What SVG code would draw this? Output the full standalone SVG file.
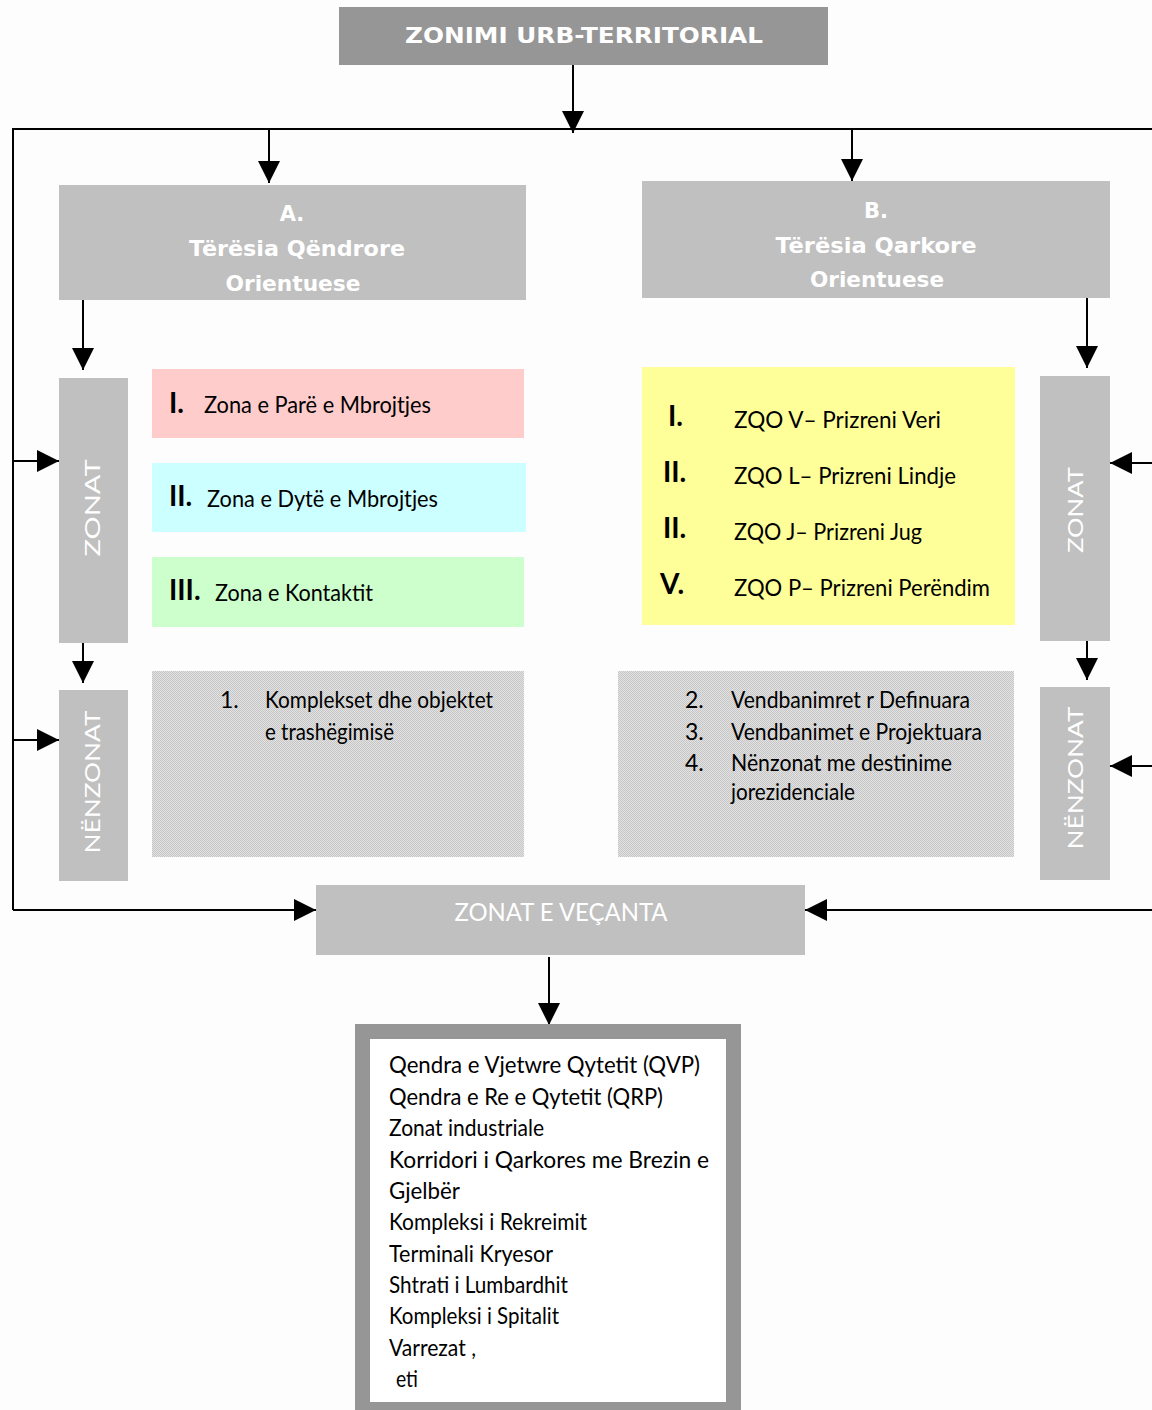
<svg xmlns="http://www.w3.org/2000/svg" width="1152" height="1410" viewBox="0 0 1152 1410">
<defs>
<marker id="ah" markerUnits="userSpaceOnUse" markerWidth="22" markerHeight="22" viewBox="0 0 20 20" refX="20" refY="10" orient="auto">
<path d="M0,0 L20,10 L0,20 Z" fill="#000"/>
</marker>
<pattern id="dots" width="2" height="2" patternUnits="userSpaceOnUse">
<rect width="2" height="2" fill="#e2e2e2"/>
<rect width="1" height="1" fill="#c6c6c6"/>
<rect x="1" y="1" width="1" height="1" fill="#c6c6c6"/>
</pattern>
<style>
.hdr{fill:#c0c0c0}
.wb{font-family:"DejaVu Sans",sans-serif;font-weight:bold;fill:#fff;text-anchor:middle}
.wt{font-family:"Lato","Liberation Sans",sans-serif;fill:#fff;text-anchor:middle}
.bt{font-family:"Lato","Liberation Sans",sans-serif;fill:#000}
.num{font-family:"Lato","Liberation Sans",sans-serif;fill:#000;font-size:28px;font-weight:bold}
.conn{stroke:#000;stroke-width:2;fill:none}
.arr{stroke:#000;stroke-width:2;fill:none;marker-end:url(#ah)}
</style>
</defs>
<rect width="1152" height="1410" fill="#fdfdfd"/>

<g id="connectors">
<path class="conn" d="M1152,129 L13,129 L13,910"/>
<line class="arr" x1="573" y1="65" x2="573" y2="133"/>
<line class="arr" x1="269" y1="129" x2="269" y2="183"/>
<line class="arr" x1="852" y1="129" x2="852" y2="181"/>
<line class="arr" x1="83" y1="300" x2="83" y2="370"/>
<line class="arr" x1="83" y1="643" x2="83" y2="683"/>
<line class="arr" x1="1087" y1="298" x2="1087" y2="368"/>
<line class="arr" x1="1087" y1="641" x2="1087" y2="680"/>
<line class="arr" x1="13" y1="461" x2="59" y2="461"/>
<line class="arr" x1="13" y1="740" x2="59" y2="740"/>
<line class="arr" x1="1152" y1="463" x2="1110" y2="463"/>
<line class="arr" x1="1152" y1="766" x2="1110" y2="766"/>
<line class="arr" x1="13" y1="910" x2="316" y2="910"/>
<line class="arr" x1="1152" y1="910" x2="805" y2="910"/>
<line class="arr" x1="549" y1="957" x2="549" y2="1025"/>
</g>

<g id="title">
<rect x="339" y="7" width="489" height="58" fill="#969696"/>
<text class="wb" x="584" y="43" font-size="22" textLength="358" lengthAdjust="spacingAndGlyphs">ZONIMI URB-TERRITORIAL</text>
</g>

<g id="nodeA">
<rect class="hdr" x="59" y="185" width="467" height="115"/>
<text class="wb" x="292" y="221" font-size="21">A.</text>
<text class="wb" x="297" y="256" font-size="21" textLength="216" lengthAdjust="spacingAndGlyphs">Tërësia Qëndrore</text>
<text class="wb" x="293" y="291" font-size="21" textLength="135" lengthAdjust="spacingAndGlyphs">Orientuese</text>
</g>

<g id="nodeB">
<rect class="hdr" x="642" y="181" width="468" height="117"/>
<text class="wb" x="876" y="218" font-size="21">B.</text>
<text class="wb" x="876" y="253" font-size="21" textLength="201" lengthAdjust="spacingAndGlyphs">Tërësia Qarkore</text>
<text class="wb" x="877" y="287" font-size="21" textLength="134" lengthAdjust="spacingAndGlyphs">Orientuese</text>
</g>

<g id="zonatL">
<rect class="hdr" x="59" y="378" width="69" height="265"/>
<text class="wt" transform="translate(100,508) rotate(-90)" font-size="21" textLength="97" lengthAdjust="spacingAndGlyphs">ZONAT</text>
</g>
<g id="nenzonatL">
<rect class="hdr" x="59" y="690" width="69" height="191"/>
<text class="wt" transform="translate(100,782) rotate(-90)" font-size="21" textLength="143" lengthAdjust="spacingAndGlyphs">NËNZONAT</text>
</g>
<g id="zonatR">
<rect class="hdr" x="1040" y="376" width="70" height="265"/>
<text class="wt" transform="translate(1083,510) rotate(-90)" font-size="21" textLength="86" lengthAdjust="spacingAndGlyphs">ZONAT</text>
</g>
<g id="nenzonatR">
<rect class="hdr" x="1040" y="687" width="70" height="193"/>
<text class="wt" transform="translate(1083,778) rotate(-90)" font-size="21" textLength="143" lengthAdjust="spacingAndGlyphs">NËNZONAT</text>
</g>

<g id="zone1">
<rect x="152" y="369" width="372" height="69" fill="#ffcccc"/>
<text class="num" x="169" y="413">I.</text>
<text class="bt" x="204" y="413" font-size="23" textLength="227" lengthAdjust="spacingAndGlyphs">Zona e Parë e Mbrojtjes</text>
</g>
<g id="zone2">
<rect x="152" y="463" width="374" height="69" fill="#ccffff"/>
<text class="num" x="169" y="506">II.</text>
<text class="bt" x="207" y="507" font-size="23" textLength="231" lengthAdjust="spacingAndGlyphs">Zona e Dytë e Mbrojtjes</text>
</g>
<g id="zone3">
<rect x="152" y="557" width="372" height="70" fill="#ccffcc"/>
<text class="num" x="169" y="600">III.</text>
<text class="bt" x="215" y="601" font-size="23" textLength="158" lengthAdjust="spacingAndGlyphs">Zona e Kontaktit</text>
</g>

<g id="zqo">
<rect x="642" y="367" width="373" height="258" fill="#ffff99"/>
<text class="num" x="668" y="426">I.</text>
<text class="num" x="663" y="482">II.</text>
<text class="num" x="663" y="538">II.</text>
<text class="num" x="660" y="594">V.</text>
<text class="bt" x="734" y="428" font-size="23" textLength="207" lengthAdjust="spacingAndGlyphs">ZQO V– Prizreni Veri</text>
<text class="bt" x="734" y="484" font-size="23" textLength="222" lengthAdjust="spacingAndGlyphs">ZQO L– Prizreni Lindje</text>
<text class="bt" x="734" y="540" font-size="23" textLength="188" lengthAdjust="spacingAndGlyphs">ZQO J– Prizreni Jug</text>
<text class="bt" x="734" y="596" font-size="23" textLength="256" lengthAdjust="spacingAndGlyphs">ZQO P– Prizreni Perëndim</text>
</g>

<g id="subL">
<rect x="152" y="671" width="372" height="186" fill="url(#dots)"/>
<text class="bt" x="220" y="708" font-size="23">1.</text>
<text class="bt" x="265" y="708" font-size="23" textLength="228" lengthAdjust="spacingAndGlyphs">Komplekset dhe objektet</text>
<text class="bt" x="265" y="740" font-size="23" textLength="129" lengthAdjust="spacingAndGlyphs">e trashëgimisë</text>
</g>

<g id="subR">
<rect x="618" y="671" width="396" height="186" fill="url(#dots)"/>
<text class="bt" x="685" y="708" font-size="23">2.</text>
<text class="bt" x="731" y="708" font-size="23" textLength="239" lengthAdjust="spacingAndGlyphs">Vendbanimret r Definuara</text>
<text class="bt" x="685" y="740" font-size="23">3.</text>
<text class="bt" x="731" y="740" font-size="23" textLength="251" lengthAdjust="spacingAndGlyphs">Vendbanimet e Projektuara</text>
<text class="bt" x="685" y="771" font-size="23">4.</text>
<text class="bt" x="731" y="771" font-size="23" textLength="221" lengthAdjust="spacingAndGlyphs">Nënzonat me destinime</text>
<text class="bt" x="731" y="800" font-size="23" textLength="124" lengthAdjust="spacingAndGlyphs">jorezidenciale</text>
</g>

<g id="vecanta">
<rect class="hdr" x="316" y="885" width="489" height="70"/>
<text class="wt" x="561" y="921" font-size="25" textLength="213" lengthAdjust="spacingAndGlyphs">ZONAT E VEÇANTA</text>
</g>

<g id="listbox">
<rect x="362.5" y="1031.5" width="371" height="378" fill="#fff" stroke="#969696" stroke-width="15"/>
<text class="bt" x="389" y="1073" font-size="23" textLength="311" lengthAdjust="spacingAndGlyphs">Qendra e Vjetwre Qytetit (QVP)</text>
<text class="bt" x="389" y="1105" font-size="23" textLength="274" lengthAdjust="spacingAndGlyphs">Qendra e Re e Qytetit (QRP)</text>
<text class="bt" x="389" y="1136" font-size="23" textLength="155" lengthAdjust="spacingAndGlyphs">Zonat industriale</text>
<text class="bt" x="389" y="1168" font-size="23" textLength="320" lengthAdjust="spacingAndGlyphs">Korridori i Qarkores me Brezin e</text>
<text class="bt" x="389" y="1199" font-size="23" textLength="71" lengthAdjust="spacingAndGlyphs">Gjelbër</text>
<text class="bt" x="389" y="1230" font-size="23" textLength="198" lengthAdjust="spacingAndGlyphs">Kompleksi i Rekreimit</text>
<text class="bt" x="389" y="1262" font-size="23" textLength="164" lengthAdjust="spacingAndGlyphs">Terminali Kryesor</text>
<text class="bt" x="389" y="1293" font-size="23" textLength="179" lengthAdjust="spacingAndGlyphs">Shtrati i Lumbardhit</text>
<text class="bt" x="389" y="1324" font-size="23" textLength="170" lengthAdjust="spacingAndGlyphs">Kompleksi i Spitalit</text>
<text class="bt" x="389" y="1356" font-size="23" textLength="87" lengthAdjust="spacingAndGlyphs">Varrezat ,</text>
<text class="bt" x="396" y="1387" font-size="23" textLength="22" lengthAdjust="spacingAndGlyphs">eti</text>
</g>
</svg>
